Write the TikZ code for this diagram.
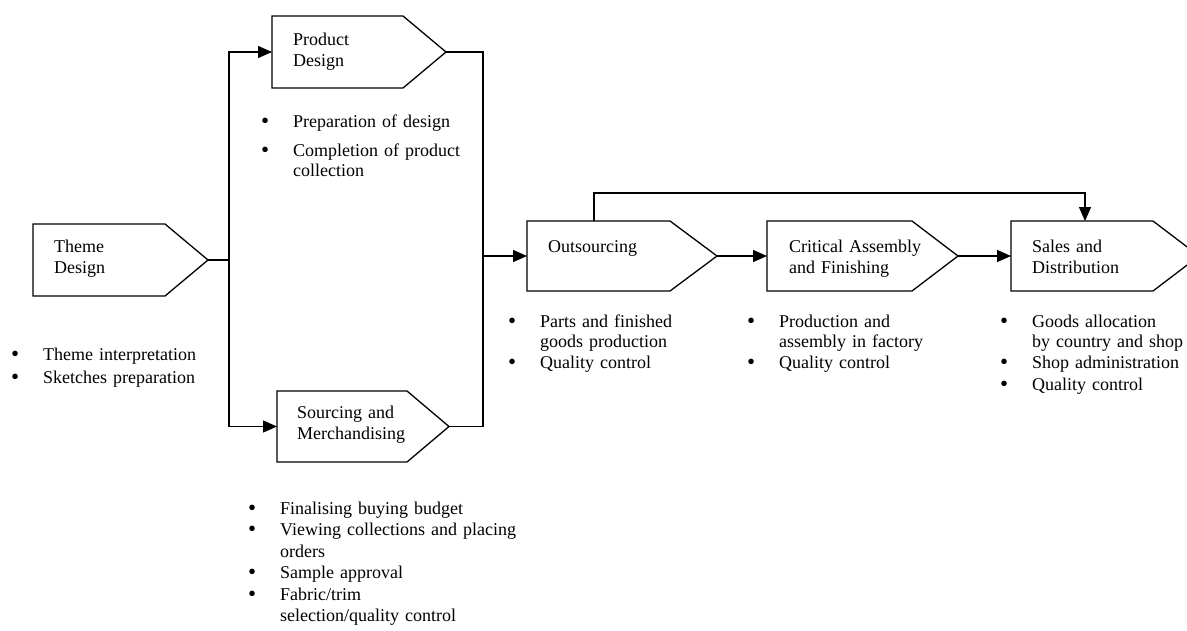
\documentclass[tikz,border=0pt]{standalone}
\usepackage{fontspec}
\setmainfont{Liberation Serif}
\usetikzlibrary{arrows.meta,calc}
\newcommand\bul{\makebox[31pt][l]{\hspace*{-1pt}\smash{\raisebox{-1.2pt}{\fontsize{23}{0}\selectfont\textbullet}}}}
\newcommand\cont{\hspace*{31pt}}
\newcommand\pentabox[2]{\draw[boxline] (#1.north west) -- ([xshift=-#2]#1.north east) -- (#1.east) -- ([xshift=-#2]#1.south east) -- (#1.south west) -- cycle;}
\begin{document}
\begin{tikzpicture}[x=1pt,y=-1pt,
  proc/.style={minimum width=#1, minimum height=70pt, inner sep=0pt, outer sep=0pt},
  boxline/.style={line width=1.3pt, line join=miter},
  conn/.style={line width=1.3pt},
  arr/.style={line width=1.3pt, -{Triangle[length=14pt,width=12pt]}},
  boxtext/.style={font=\fontsize{18}{21}\selectfont, text width=180pt, align=left, inner sep=0pt, anchor=base west},
  blist/.style={font=\fontsize{18}{21.5}\selectfont, text width=320pt, align=left, inner sep=0pt, anchor=base west}]
\clip (0,0) rectangle (1187,630);
\fill[white] (0,0) rectangle (1187,630);

% process boxes
\node[proc=175pt, minimum height=72pt] (theme) at (120.5,260) {};
\node[proc=174pt, minimum height=72pt] (product) at (359,52) {};
\node[proc=172pt, minimum height=71pt] (sourcing) at (363,426.5) {};
\node[proc=190pt] (outs) at (622,256) {};
\node[proc=191pt] (crit) at (862.5,256) {};
\node[proc=188pt] (sales) at (1105,256) {};

\pentabox{theme}{43pt}
\pentabox{product}{43pt}
\pentabox{sourcing}{42pt}
\pentabox{outs}{47pt}
\pentabox{crit}{46pt}
\pentabox{sales}{46pt}

% box labels
\node[boxtext] (themeT) at ([xshift=21pt,yshift=-28pt]theme.north west) {Theme\\Design};
\node[boxtext] (productT) at ([xshift=21pt,yshift=-29pt]product.north west) {Product\\Design};
\node[boxtext] (sourcingT) at ([xshift=20pt,yshift=-27pt]sourcing.north west) {Sourcing and\\Merchandising};
\node[boxtext] (outsT) at ([xshift=21pt,yshift=-31pt]outs.north west) {Outsourcing};
\node[boxtext] (critT) at ([xshift=22pt,yshift=-31pt]crit.north west) {Critical Assembly\\and Finishing};
\node[boxtext] (salesT) at ([xshift=21pt,yshift=-31pt]sales.north west) {Sales and\\Distribution};

% bullet lists
\node[blist] (themeL) at (12,360) {\bul Theme interpretation\\[1.5pt]\bul Sketches preparation};
\node[blist] (productL) at (262,127) {\bul Preparation of design\\[7.5pt]\bul Completion of product\\[-1.5pt]\cont collection};
\node[blist] (sourcingL) at (249,514) {\bul Finalising buying budget\\\bul Viewing collections and placing\\\cont orders\\\bul Sample approval\\\bul Fabric/trim\\\cont selection/quality control};
\node[blist] (outsL) at (509,327) {\bul Parts and finished\\[-1.5pt]\cont goods production\\\bul Quality control};
\node[blist] (critL) at (748,327) {\bul Production and\\[-1.5pt]\cont assembly in factory\\\bul Quality control};
\node[blist] (salesL) at (1001,327) {\bul Goods allocation\\[-1.5pt]\cont by country and shop\\\bul Shop administration\\\bul Quality control};

% connectors
\coordinate (split) at (229,260);
\coordinate (merge) at (483,256);
\draw[conn] (theme.east) -- (split);
\draw[arr] (split) |- (product.west);
\draw[arr] (split) |- (sourcing.west);
\draw[conn] (product.east) -| (merge);
\draw[conn] (sourcing.east) -| (merge);
\draw[arr] (merge) -- (outs.west);
\draw[arr] (outs.east) -- (crit.west);
\draw[arr] (crit.east) -- (sales.west);
\coordinate (bypass) at ([xshift=67pt]outs.north west);
\coordinate (bypassEnd) at ([xshift=74pt]sales.north west);
\draw[arr] (bypass) -- ++(0,-28) -| (bypassEnd);
\end{tikzpicture}
\end{document}
